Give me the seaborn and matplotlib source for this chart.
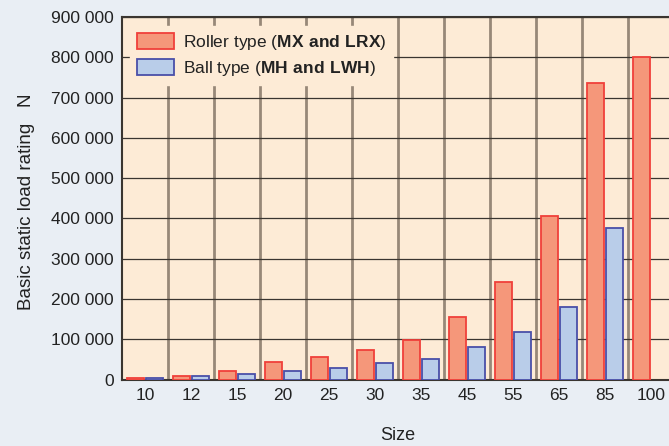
import numpy as np
import pandas as pd
import matplotlib
matplotlib.use('Agg')
import matplotlib.pyplot as plt
import seaborn as sns

sizes = ['10', '12', '15', '20', '25', '30', '35', '45', '55', '65', '85', '100']
roller = [5000, 10000, 21000, 43000, 55000, 73000, 98000, 155000, 242000, 406000, 735000, 801000]
ball = [3000, 8000, 14000, 22000, 28000, 40000, 52000, 80000, 118000, 179000, 375000, np.nan]

roller_lbl = r'Roller type ($\mathbf{MX\ and\ LRX}$)'
ball_lbl = r'Ball type ($\mathbf{MH\ and\ LWH}$)'

df = pd.DataFrame({
    'size': sizes * 2,
    'rating': roller + ball,
    'type': [roller_lbl] * len(sizes) + [ball_lbl] * len(sizes),
})

sns.set_theme(style='white')
plt.rcParams['font.family'] = ['Liberation Sans', 'DejaVu Sans']
plt.rcParams['mathtext.fontset'] = 'custom'
plt.rcParams['mathtext.rm'] = 'Liberation Sans'
plt.rcParams['mathtext.bf'] = 'Liberation Sans:bold'

fig = plt.figure(figsize=(6.69, 4.46), dpi=100)
fig.patch.set_facecolor('#E9EEF4')
ax = fig.add_axes([0.1824, 0.149, 0.8251, 0.813])
ax.set_facecolor('#FDEBD6')

fills = ['#F5977A', '#B9CDE9']
edges = ['#F0403A', '#4A4FA8']
sns.barplot(data=df, x='size', y='rating', hue='type', order=sizes,
            palette=fills, saturation=1, width=0.8, gap=0.08,
            ax=ax, zorder=3)

for cont, ec in zip(ax.containers, edges):
    for bar in cont:
        bar.set_edgecolor(ec)
        bar.set_linewidth(1.3)

ax.set_xlim(-0.5, 11.5)
ax.set_ylim(0, 900000)
yt = np.arange(0, 900001, 100000)
ax.set_yticks(yt)
ax.set_yticklabels(['0' if v == 0 else f'{v // 1000} 000' for v in yt])

ax.set_xticks(np.arange(0.5, 11, 1), minor=True)
ax.grid(which='minor', axis='x', color='#978878', lw=2.0, zorder=1)
ax.grid(which='major', axis='y', color='#3A3530', lw=0.9, zorder=1)
ax.grid(which='major', axis='x', visible=False)
ax.set_axisbelow(True)

ax.tick_params(axis='x', which='both', length=0, labelsize=12.5, colors='#222222', pad=6)
ax.tick_params(axis='y', direction='in', length=8, width=1, color='#5A5049',
               labelsize=12.5, labelcolor='#222222', pad=6)

for s in ['left', 'bottom', 'top']:
    ax.spines[s].set_color('#3A3530')
    ax.spines[s].set_linewidth(1.5)
ax.spines['right'].set_visible(False)

ax.set_xlabel('Size', fontsize=13, color='#222222')
ax.xaxis.set_label_coords((398 - 122) / 552, -0.13)
ax.set_ylabel('Basic static load rating   N', fontsize=13.5, color='#222222')
ax.yaxis.set_label_coords(-0.158, 0.49)

leg = ax.legend(loc='upper left', bbox_to_anchor=(0.008, 0.985), fontsize=12.5,
                frameon=True, fancybox=False, handlelength=2.15, handleheight=1.0,
                handletextpad=0.5, labelspacing=0.4, borderaxespad=0.2)
leg.get_frame().set_facecolor('#FDEBD6')
leg.get_frame().set_edgecolor('#FDEBD6')
leg.get_frame().set_alpha(1)
for h, fc, ec in zip(leg.legend_handles, fills, edges):
    h.set_facecolor(fc)
    h.set_edgecolor(ec)
    h.set_linewidth(1.3)
for t in leg.get_texts():
    t.set_color('#222222')

fig.savefig('out.png', dpi=100, facecolor=fig.get_facecolor())
